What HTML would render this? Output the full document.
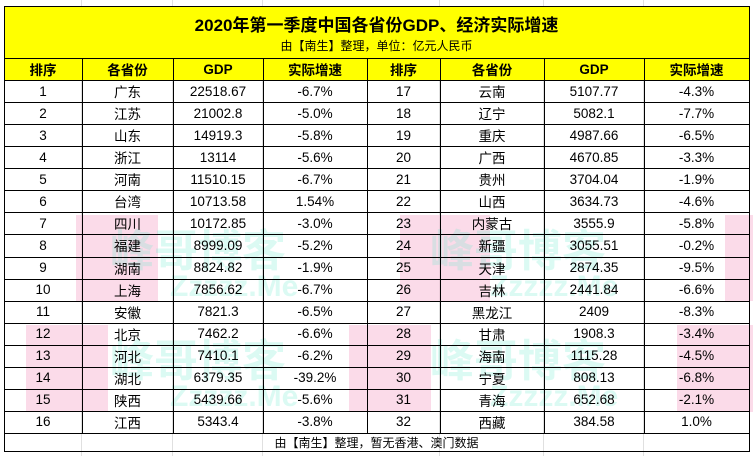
<!DOCTYPE html>
<html><head><meta charset="utf-8"><style>
body{margin:0;width:753px;height:456px;background:#fff;position:relative;overflow:hidden;font-family:"Liberation Sans","Noto Sans CJK SC",sans-serif;color:#000}
.g{position:absolute;background:#e0e0e0}
.pk{position:absolute;background:rgba(248,190,215,0.55)}
.c{position:absolute;text-align:center;font-size:13.5px;display:flex;align-items:center;justify-content:center}
.h{font-weight:bold;font-size:13.5px}
.l{position:absolute;background:#000}
.wm{position:absolute;color:rgba(90,230,200,0.22);font-weight:bold;white-space:nowrap}
</style></head><body>
<div class="g" style="left:81px;top:0;width:1px;height:456px"></div>
<div class="g" style="left:172px;top:0;width:1px;height:456px"></div>
<div class="g" style="left:262px;top:0;width:1px;height:456px"></div>
<div class="g" style="left:439px;top:0;width:1px;height:456px"></div>
<div class="g" style="left:543px;top:0;width:1px;height:456px"></div>
<div class="g" style="left:643px;top:0;width:1px;height:456px"></div>
<div style="position:absolute;left:4px;top:6px;width:745px;height:52px;background:#ffff00"></div>
<div style="position:absolute;left:4px;top:58px;width:745px;height:22px;background:#ffff00"></div>
<div class="pk" style="left:76px;top:215px;width:82px;height:86px"></div>
<div class="pk" style="left:400px;top:215px;width:90px;height:86px"></div>
<div class="pk" style="left:725px;top:215px;width:28px;height:86px"></div>
<div class="pk" style="left:26px;top:325px;width:82px;height:87px"></div>
<div class="pk" style="left:349px;top:325px;width:82px;height:87px"></div>
<div class="pk" style="left:677px;top:325px;width:76px;height:87px"></div>
<div class="wm" style="left:110px;top:215px;font-size:44px">峰哥博客</div>
<div class="wm" style="left:430px;top:215px;font-size:44px">峰哥博客</div>
<div class="wm" style="left:110px;top:325px;font-size:44px">峰哥博客</div>
<div class="wm" style="left:430px;top:325px;font-size:44px">峰哥博客</div>
<div class="wm" style="left:170px;top:270px;font-size:30px">Zzzzz.Me</div>
<div class="wm" style="left:490px;top:270px;font-size:30px">Zzzzz.Me</div>
<div class="wm" style="left:170px;top:380px;font-size:30px">Zzzzz.Me</div>
<div class="wm" style="left:490px;top:380px;font-size:30px">Zzzzz.Me</div>
<div id="t"></div>
<div class="c" style="left:4px;top:10px;width:745px;height:26px;font-weight:bold;font-size:17px">2020年第一季度中国各省份GDP、经济实际增速</div>
<div class="c" style="left:4px;top:36px;width:745px;height:18px;font-size:12px">由【南生】整理，单位：亿元人民币</div>
<div class="c" style="left:4px;top:433px;width:745px;height:18px;font-size:12px">由【南生】整理，暂无香港、澳门数据</div>
<script>
var cols=[4,82,173,263,367,440,544,644,749];
var d=[["1","广东","22518.67","-6.7%","17","云南","5107.77","-4.3%"],["2","江苏","21002.8","-5.0%","18","辽宁","5082.1","-7.7%"],["3","山东","14919.3","-5.8%","19","重庆","4987.66","-6.5%"],["4","浙江","13114","-5.6%","20","广西","4670.85","-3.3%"],["5","河南","11510.15","-6.7%","21","贵州","3704.04","-1.9%"],["6","台湾","10713.58","1.54%","22","山西","3634.73","-4.6%"],["7","四川","10172.85","-3.0%","23","内蒙古","3555.9","-5.8%"],["8","福建","8999.09","-5.2%","24","新疆","3055.51","-0.2%"],["9","湖南","8824.82","-1.9%","25","天津","2874.35","-9.5%"],["10","上海","7856.62","-6.7%","26","吉林","2441.84","-6.6%"],["11","安徽","7821.3","-6.5%","27","黑龙江","2409","-8.3%"],["12","北京","7462.2","-6.6%","28","甘肃","1908.3","-3.4%"],["13","河北","7410.1","-6.2%","29","海南","1115.28","-4.5%"],["14","湖北","6379.35","-39.2%","30","宁夏","808.13","-6.8%"],["15","陕西","5439.66","-5.6%","31","青海","652.68","-2.1%"],["16","江西","5343.4","-3.8%","32","西藏","384.58","1.0%"]];
var hd=["排序","各省份","GDP","实际增速","排序","各省份","GDP","实际增速"];
var h="";
function cell(x,y,w,hh,t,cls){return '<div class="c '+cls+'" style="left:'+x+'px;top:'+y+'px;width:'+w+'px;height:'+hh+'px">'+t+'</div>';}
for(var i=0;i<8;i++)h+=cell(cols[i],58,cols[i+1]-cols[i],22,hd[i],"h");
var rh=(433-80)/16;
for(var r=0;r<16;r++){var y=80+r*rh;for(var i=0;i<8;i++)h+=cell(cols[i],y,cols[i+1]-cols[i],rh,d[r][i],"");}
function L(x,y,w,hh){return '<div class="l" style="left:'+x+'px;top:'+y+'px;width:'+w+'px;height:'+hh+'px"></div>';}
h+=L(4,6,746,1);h+=L(4,58,746,1);
for(var r=0;r<=16;r++)h+=L(4,Math.round(80+r*rh),746,1);
h+=L(4,451,746,1);
h+=L(4,6,1,446);h+=L(749,6,1,446);
for(var i=1;i<8;i++)h+=L(cols[i],58,1,375);
document.getElementById("t").innerHTML=h;
</script>
</body></html>
